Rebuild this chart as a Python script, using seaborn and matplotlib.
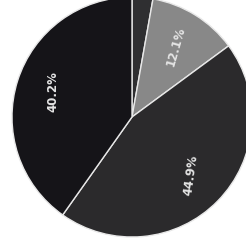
import numpy as np
import pandas as pd
import matplotlib
matplotlib.use("Agg")
import matplotlib.pyplot as plt
import seaborn as sns

# slice values (clockwise from 12 o'clock)
categories = ["A", "B", "C", "D"]
shares = [2.8, 12.1, 44.9, 40.2]
colors = ["#2f2f31", "#888888", "#2b2a2c", "#151418"]
label_rotation = [0, 74, 82, 90]

sns.set_theme(style="white")

df = pd.DataFrame({"category": categories, "share": shares})

fig = plt.figure(figsize=(2.46, 2.49), dpi=100)
ax = fig.add_axes([0, 0, 1, 1])


def fmt_pct(p):
    # the tiny top slice carries no label
    return f"{p:.1f}%" if p > 5 else ""


wedges, texts, autotexts = ax.pie(
    df["share"],
    colors=colors,
    startangle=90,
    counterclock=False,
    autopct=fmt_pct,
    pctdistance=0.69,
    wedgeprops=dict(edgecolor="#e8e8e8", linewidth=1.0),
    textprops=dict(color="#e4e4e4", fontsize=8.5, fontweight="bold"),
)
for t, rot in zip(autotexts, label_rotation):
    t.set_rotation(rot)

ax.set_xlim(-1.1, 0.95)
ax.set_ylim(-1.1, 0.975)
ax.axis("off")

fig.savefig("out.png", dpi=100, facecolor="white")
